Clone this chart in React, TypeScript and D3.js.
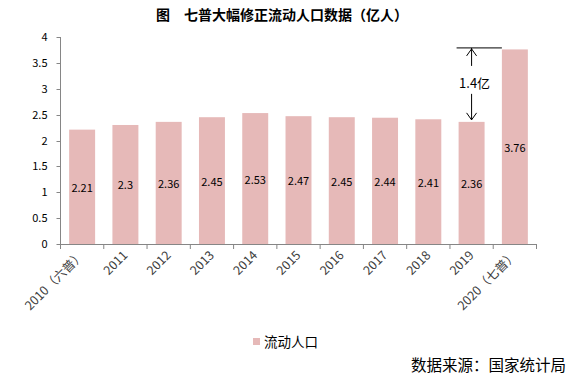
import React from "react";
import * as d3 from "d3";

const categories = ["2010（六普）", "2011", "2012", "2013", "2014", "2015", "2016", "2017", "2018", "2019", "2020（七普）"];
const values = [2.21, 2.3, 2.36, 2.45, 2.53, 2.47, 2.45, 2.44, 2.41, 2.36, 3.76];
const yTicks = [0, 0.5, 1, 1.5, 2, 2.5, 3, 3.5, 4];
const title = "图　七普大幅修正流动人口数据（亿人）";
const seriesName = "流动人口";
const source = "数据来源：国家统计局";
const gapLabel = "1.4亿";

const W = 574, H = 381;
const left = 60.5, right = 536.5, top = 37, bottom = 244;
const font = "'Noto Sans CJK SC', 'Noto Sans', sans-serif";
const barColor = "#E6B9B8";
const axisColor = "#868686";

export default function App() {
  const x = d3.scaleBand<string>().domain(categories).range([left, right]).paddingInner(0.4).paddingOuter(0.2);
  const y = d3.scaleLinear().domain([0, 4]).range([bottom, top]);
  const step = x.step();
  const bw = x.bandwidth();
  const last = categories.length - 1;
  const c2019 = (x(categories[last - 1]) as number) + bw / 2;
  const x2020 = x(categories[last]) as number;
  const yTop = y(values[last]) - 1.5;
  const y2019 = y(values[last - 1]);
  return (
    <svg width={W} height={H} style={{ position: "absolute", left: 0, top: 0, fontFamily: font }}>
      <rect width={W} height={H} fill="#fff" />
      <text x={282} y={20} textAnchor="middle" fontSize={14} fontWeight="bold" fill="#000">{title}</text>
      {values.map((v, i) => (
        <rect key={i} x={x(categories[i])} y={y(v)} width={bw} height={y(0) - y(v)} fill={barColor} />
      ))}
      {/* y axis */}
      <line x1={left} x2={left} y1={top} y2={bottom} stroke={axisColor} />
      {yTicks.map((t) => (
        <g key={t}>
          <line x1={left - 4} x2={left} y1={Math.round(y(t)) + 0.5} y2={Math.round(y(t)) + 0.5} stroke={axisColor} />
          <text x={left - 13} y={y(t) + 4} textAnchor="end" fontSize={11} fill="#000">{t}</text>
        </g>
      ))}
      {/* x axis */}
      <line x1={left} x2={right} y1={bottom + 0.5} y2={bottom + 0.5} stroke={axisColor} />
      {d3.range(categories.length + 1).map((i) => (
        <line key={i} x1={left + i * step} x2={left + i * step} y1={bottom} y2={bottom + 5} stroke={axisColor} />
      ))}
      {categories.map((c, i) => {
        const cx = (x(c) as number) + bw / 2;
        return (
          <text key={c} transform={`translate(${cx + 3},${bottom + 12}) rotate(-45)`} textAnchor="end" fontSize={12.5} fill="#404040">{c}</text>
        );
      })}
      {/* value labels */}
      {values.map((v, i) => {
        const cx = (x(categories[i]) as number) + bw / 2;
        const ly = (y(v) + y(0)) / 2 + 5;
        return (
          <text key={i} x={cx} y={ly} textAnchor="middle" fontSize={11} fill="#000">{v}</text>
        );
      })}
      {/* annotation */}
      <line x1={c2019 - 15} x2={x2020} y1={yTop} y2={yTop} stroke="#000" />
      <line x1={c2019} x2={c2019} y1={yTop} y2={yTop + 18} stroke="#000" />
      <polyline points={`${c2019 - 5},${yTop + 8} ${c2019},${yTop + 1} ${c2019 + 5},${yTop + 8}`} fill="none" stroke="#000" />
      <text x={c2019 + 3} y={y2019 - 34} textAnchor="middle" fontSize={13} fill="#000">{gapLabel}</text>
      <line x1={c2019} x2={c2019} y1={y2019 - 28} y2={y2019 - 2} stroke="#000" />
      <polyline points={`${c2019 - 5},${y2019 - 9} ${c2019},${y2019 - 2} ${c2019 + 5},${y2019 - 9}`} fill="none" stroke="#000" />
      {/* legend */}
      <rect x={253} y={338} width={7} height={7} fill={barColor} />
      <text x={264} y={347} fontSize={13.5} fill="#000">{seriesName}</text>
      <text x={566} y={371} textAnchor="end" fontSize={15.5} fill="#000">{source}</text>
    </svg>
  );
}
